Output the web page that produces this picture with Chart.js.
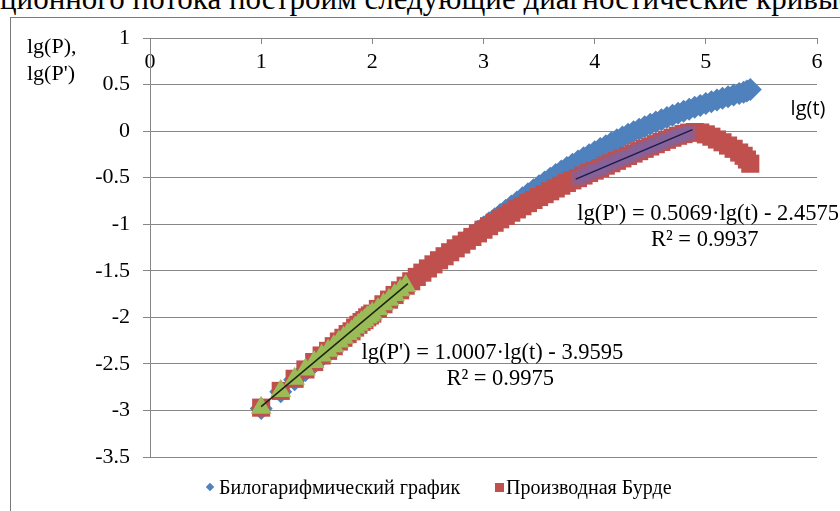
<!DOCTYPE html>
<html>
<head>
<meta charset="utf-8">
<script src="https://cdn.jsdelivr.net/npm/chart.js@4/dist/chart.umd.min.js"></script>
<style>
  html, body { margin: 0; padding: 0; background: #fff; }
  #wrap { position: relative; width: 840px; height: 511px; overflow: hidden;
          font-family: 'Liberation Serif', 'Times New Roman', serif; color: #000; }
  #lead { position: absolute; left: 0; top: -17px; font-size: 31px; line-height: 32px; white-space: nowrap; }
  #frame { position: absolute; left: 10px; top: 17px; width: 900px; height: 600px;
           border-left: 1px solid #7a7a7a; border-top: 1px solid #7a7a7a; }
  #chart { position: absolute; left: 0; top: 0; }
  .key { position: absolute; top: 476px; font-size: 20px; line-height: 22px; white-space: nowrap; }
  .mark { position: absolute; }
</style>
</head>
<body>
<div id="wrap">
  <div id="lead">ционного потока построим следующие диагностические кривые</div>
  <div id="frame"></div>
  <canvas id="chart" width="840" height="511"></canvas>
  <div id="legend"></div>
</div>
<script>
// lg(t) of the recorded time steps
const lgT = [
  1.000, 1.176, 1.301, 1.398, 1.477, 1.544, 1.602, 1.653, 1.699, 1.740,
  1.778, 1.813, 1.845, 1.875, 1.903, 1.929, 1.954, 1.978, 2.000,
  2.05, 2.10, 2.15, 2.20, 2.25, 2.30, 2.35, 2.40, 2.45, 2.50,
  2.55, 2.60, 2.65, 2.70, 2.75, 2.80, 2.85, 2.90, 2.95, 3.00,
  3.05, 3.10, 3.15, 3.20, 3.25, 3.30, 3.35, 3.40, 3.45, 3.50,
  3.55, 3.60, 3.65, 3.70, 3.75, 3.80, 3.85, 3.90, 3.95, 4.00,
  4.05, 4.10, 4.15, 4.20, 4.25, 4.30, 4.35, 4.40, 4.45, 4.50,
  4.55, 4.60, 4.65, 4.70, 4.75, 4.80, 4.85, 4.90, 4.95, 5.00,
  5.05, 5.10, 5.15, 5.20, 5.25, 5.30, 5.34, 5.37, 5.40
];

// lg(P): bilogarithmic pressure curve
const lgP = [
  -2.98, -2.80, -2.67, -2.57, -2.49, -2.42, -2.37, -2.32, -2.27, -2.23,
  -2.19, -2.16, -2.12, -2.09, -2.06, -2.04, -2.01, -1.99, -1.97,
  -1.92, -1.87, -1.82, -1.77, -1.72, -1.67, -1.62, -1.57, -1.525, -1.48,
  -1.435, -1.39, -1.345, -1.30, -1.255, -1.21, -1.165, -1.12, -1.075, -1.03,
  -0.985, -0.94, -0.895, -0.85, -0.805, -0.76, -0.716, -0.672, -0.629, -0.587,
  -0.546, -0.506, -0.467, -0.429, -0.392, -0.356, -0.321, -0.287, -0.254, -0.221,
  -0.188, -0.156, -0.124, -0.093, -0.063, -0.034, -0.006, 0.021, 0.048, 0.074,
  0.099, 0.123, 0.147, 0.170, 0.192, 0.214, 0.235, 0.256, 0.276, 0.296,
  0.315, 0.334, 0.352, 0.370, 0.388, 0.405, 0.418, 0.430, 0.448
];

// lg(P'): Bourdet derivative
const lgDP = [
  -2.97, -2.79, -2.66, -2.56, -2.48, -2.41, -2.36, -2.31, -2.26, -2.22,
  -2.18, -2.15, -2.11, -2.08, -2.05, -2.03, -2.00, -1.98, -1.96,
  -1.91, -1.86, -1.81, -1.76, -1.71, -1.66, -1.613, -1.566, -1.520, -1.475,
  -1.431, -1.387, -1.344, -1.301, -1.259, -1.218, -1.177, -1.137, -1.098, -1.059,
  -1.021, -0.984, -0.947, -0.911, -0.876, -0.841, -0.807, -0.773, -0.740, -0.708,
  -0.677, -0.646, -0.616, -0.586, -0.557, -0.529, -0.505, -0.477, -0.450, -0.424,
  -0.397, -0.371, -0.345, -0.319, -0.293, -0.267, -0.241, -0.215, -0.190, -0.165,
  -0.140, -0.116, -0.093, -0.071, -0.050, -0.032, -0.017, -0.010, -0.015, -0.035,
  -0.060, -0.090, -0.120, -0.155, -0.190, -0.230, -0.265, -0.305, -0.350
];

const seriesNames = ['Билогарифмический график', 'Производная Бурде'];

// Straight-line fits of the derivative on two lg(t) intervals
const fitSlope = [1.0007, 0.5069];
const fitIntercept = [-3.9595, -2.4575];
const fitFrom = [1.0, 3.83];
const fitTo = [2.32, 4.88];
const fitR2 = ['0.9975', '0.9937'];

const xTicks = [0, 1, 2, 3, 4, 5, 6];
const yTicks = [1, 0.5, 0, -0.5, -1, -1.5, -2, -2.5, -3, -3.5];

const SERIF = "'Liberation Serif', 'Times New Roman', serif";
const GRID = '#878787';
const COLORS = { blue: '#4F81BD', red: '#C0504D', green: '#9BBB59', purple: 'rgba(128,100,162,0.62)' };

const pairs = (xs, ys) => xs.map((v, i) => ({ x: v, y: ys[i] }));
const derivPts = pairs(lgT, lgDP);
const within = (k) => derivPts.filter(p => p.x >= fitFrom[k] - 1e-9 && p.x <= fitTo[k] + 1e-9);
const fitLine = (k) => [fitFrom[k], fitTo[k]].map(t => ({ x: t, y: fitSlope[k] * t + fitIntercept[k] }));
const fitText = (k) => "lg(P') = " + fitSlope[k].toFixed(4) + '·lg(t) - ' + Math.abs(fitIntercept[k]).toFixed(4);

// Free text placed in data coordinates
const notes = [
  { text: fitText(0), at: [3.08, -2.385] },
  { text: 'R² = ' + fitR2[0], at: [3.15, -2.665] },
  { text: fitText(1), at: [5.02, -0.89] },
  { text: 'R² = ' + fitR2[1], at: [4.99, -1.17] }
];

const textLayer = {
  id: 'textLayer',
  afterDatasetsDraw(chart) {
    const { ctx, scales: { x, y } } = chart;
    ctx.save();
    ctx.fillStyle = '#000';
    ctx.textBaseline = 'middle';
    ctx.textAlign = 'center';
    ctx.font = '22.5px ' + SERIF;
    notes.forEach(n => ctx.fillText(n.text, x.getPixelForValue(n.at[0]), y.getPixelForValue(n.at[1])));
    // axis titles
    ctx.font = '22px ' + SERIF;
    ctx.textAlign = 'left';
    ctx.fillText('lg(P),', 27, 47);
    ctx.fillText("lg(P')", 27, 74);
    ctx.textAlign = 'center';
    ctx.font = "20px 'Open Sans', sans-serif";
    ctx.fillText('lg(t)', x.right - 9, y.getPixelForValue(0.23));
    ctx.restore();
  }
};

const pointSet = (label, data, style, radius, color, order) => ({
  label, data, order,
  pointStyle: style, pointRadius: radius, pointHoverRadius: radius,
  backgroundColor: color, borderColor: color, borderWidth: 0, showLine: false
});
const lineSet = (label, data, color, order) => ({
  label, data, order, showLine: true, pointRadius: 0, borderColor: color, borderWidth: 1.5,
  backgroundColor: color, fill: false
});

new Chart(document.getElementById('chart'), {
  type: 'scatter',
  data: {
    datasets: [
      pointSet(seriesNames[0], pairs(lgT, lgP), 'rectRot', 11.5, COLORS.blue, 6),
      pointSet(seriesNames[1], derivPts, 'rect', 12.8, COLORS.red, 5),
      pointSet('early', within(0), 'triangle', 12, COLORS.green, 4),
      pointSet('middle', within(1), 'rect', 10, COLORS.purple, 3),
      lineSet('fit early', fitLine(0), '#1b2410', 1),
      lineSet('fit middle', fitLine(1), '#1e1b4a', 0)
    ]
  },
  options: {
    responsive: false,
    animation: false,
    events: [],
    layout: { padding: { left: 0, right: 23, top: 0, bottom: 54 } },
    plugins: { legend: { display: false }, tooltip: { enabled: false } },
    scales: {
      x: {
        type: 'linear', position: 'top', min: xTicks[0], max: xTicks[xTicks.length - 1],
        afterBuildTicks: s => { s.ticks = xTicks.map(v => ({ value: v })); },
        afterFit: s => { s.height = 38; },
        ticks: { mirror: true, padding: 11, color: '#000', font: { family: SERIF, size: 22 }, maxRotation: 0,
                 callback: v => String(v) },
        grid: { drawOnChartArea: false, drawTicks: true, tickLength: -6, color: GRID },
        border: { display: true, color: GRID }
      },
      y: {
        type: 'linear', min: yTicks[yTicks.length - 1], max: yTicks[0],
        afterBuildTicks: s => { s.ticks = yTicks.map(v => ({ value: v })); },
        afterFit: s => { s.width = 150; },
        ticks: { padding: 13, color: '#000', font: { family: SERIF, size: 22 }, callback: v => String(v) },
        grid: { color: GRID, tickLength: 7 },
        border: { display: true, color: GRID }
      }
    }
  },
  plugins: [textLayer]
});

// Legend for the two measured series
const legend = document.getElementById('legend');
const keyDefs = [
  { name: seriesNames[0], color: COLORS.blue, diamond: true, markX: 210, textX: 219 },
  { name: seriesNames[1], color: COLORS.red, diamond: false, markX: 499.5, textX: 506 }
];
keyDefs.forEach(k => {
  const m = document.createElement('div');
  m.className = 'mark';
  const s = k.diamond ? 6 : 9;
  m.style.cssText = `left:${k.markX - s / 2}px;top:${487 - s / 2}px;width:${s}px;height:${s}px;background:${k.color};` +
    (k.diamond ? 'transform:rotate(45deg);' : '');
  legend.appendChild(m);
  const t = document.createElement('div');
  t.className = 'key';
  t.style.left = k.textX + 'px';
  t.textContent = k.name;
  legend.appendChild(t);
});
</script>
</body>
</html>
